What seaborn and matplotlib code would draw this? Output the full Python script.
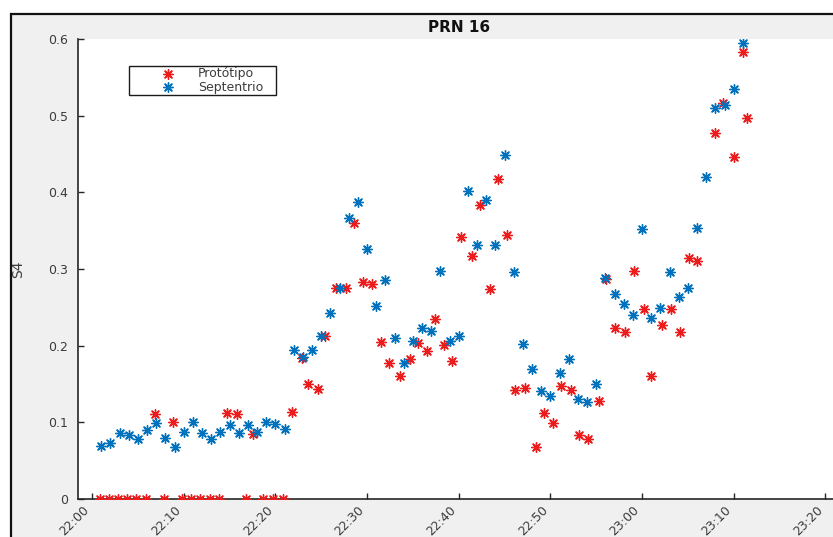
import matplotlib
matplotlib.use("Agg")
import matplotlib.pyplot as plt
import matplotlib.dates as mdates
import matplotlib.transforms as mtransforms
from matplotlib.patches import Rectangle
import pandas as pd
import seaborn as sns

# ---- data: S4 index, PRN 16, minutes after 22:00 ----
start = "2000-01-01 22:00"
series_names = ["Protótipo", "Septentrio"]

prot_min = [0.9, 1.8, 2.8, 3.8, 4.75, 5.9, 6.9, 7.85, 8.85, 9.8,
            10.8, 11.75, 12.85, 13.9, 14.75, 15.8, 16.75, 17.6, 18.65, 19.75,
            20.8, 21.8, 22.9, 23.6, 24.7, 25.4, 26.6, 27.7, 28.6, 29.6,
            30.5, 31.5, 32.4, 33.6, 34.7, 35.6, 36.5, 37.4, 38.4, 39.3,
            40.3, 41.5, 42.3, 43.4, 44.3, 45.3, 46.1, 47.2, 48.4, 49.3,
            50.3, 51.2, 52.2, 53.1, 54.1, 55.3, 56.1, 57.1, 58.1, 59.1,
            60.2, 61.0, 62.2, 63.2, 64.1, 65.1, 66.0, 68.0, 68.8, 70.0,
            71.0, 71.4]
prot_s4 = [0, 0, 0, 0, 0, 0, 0.111, 0, 0.101, 0,
           0, 0, 0, 0, 0.112, 0.1105, 0, 0.085, 0, 0,
           0, 0.1135, 0.184, 0.1495, 0.1435, 0.212, 0.275, 0.275, 0.36, 0.2835,
           0.28, 0.205, 0.177, 0.16, 0.1826, 0.203, 0.193, 0.235, 0.201, 0.18,
           0.342, 0.317, 0.3835, 0.2735, 0.417, 0.345, 0.142, 0.145, 0.068, 0.112,
           0.0996, 0.147, 0.142, 0.0835, 0.078, 0.128, 0.2865, 0.2226, 0.2174, 0.298,
           0.2474, 0.16, 0.227, 0.2474, 0.2174, 0.315, 0.311, 0.477, 0.516, 0.4457,
           0.5835, 0.4965]

sept_min = list(range(1, 72))
sept_s4 = [0.0695, 0.073, 0.0857, 0.084, 0.078, 0.09, 0.0995, 0.08, 0.068, 0.088,
           0.101, 0.0857, 0.078, 0.087, 0.0965, 0.0857, 0.0965, 0.087, 0.101, 0.098,
           0.091, 0.195, 0.185, 0.195, 0.212, 0.242, 0.275, 0.367, 0.387, 0.326,
           0.252, 0.2857, 0.2095, 0.177, 0.2065, 0.2226, 0.219, 0.297, 0.206, 0.212,
           0.4017, 0.331, 0.39, 0.331, 0.4487, 0.2957, 0.2017, 0.1696, 0.141, 0.134,
           0.165, 0.182, 0.13, 0.126, 0.15, 0.288, 0.268, 0.255, 0.24, 0.352,
           0.2365, 0.2487, 0.2957, 0.263, 0.2757, 0.354, 0.4204, 0.5096, 0.514, 0.5345,
           0.595]

x_tick_labels = ["22:00", "22:10", "22:20", "22:30", "22:40",
                 "22:50", "23:00", "23:10", "23:20"]
y_ticks = [0, 0.1, 0.2, 0.3, 0.4, 0.5, 0.6]
y_tick_labels = ["0", "0.1", "0.2", "0.3", "0.4", "0.5", "0.6"]
x_limits_min = [-1.53, 81.6]

# ---- build frames ----
t0 = pd.Timestamp(start)
day = t0.normalize()
prot = pd.DataFrame({"hora": t0 + pd.to_timedelta(prot_min, unit="min"),
                     "S4": prot_s4})
sept = pd.DataFrame({"hora": t0 + pd.to_timedelta(sept_min, unit="min"),
                     "S4": sept_s4})

RED = "#ec1c1c"
BLUE = "#0072bd"
AX_COLOR = "#262626"
TXT_COLOR = "#3c3c3c"
ASTERISK = (8, 2, 0)

plt.rcParams["font.family"] = ["DejaVu Sans"]

fig = plt.figure(figsize=(8.33, 5.37), dpi=100, facecolor="white")
# grey figure panel with dark frame
fig.add_artist(Rectangle((11 / 833, -0.1), 1.2, 1.1 - 14 / 537,
                         transform=fig.transFigure, facecolor="#f0f0f0",
                         edgecolor="#111111", linewidth=1.6, zorder=0))

ax = fig.add_axes([78 / 833, 1 - 499 / 537, (840 - 78) / 833, 460 / 537])
ax.set_facecolor("white")

sns.scatterplot(data=prot, x="hora", y="S4", color=RED, marker=ASTERISK,
                s=48, linewidth=1.0, label=series_names[0], legend=False,
                ax=ax, zorder=3)
sns.scatterplot(data=sept, x="hora", y="S4", color=BLUE, marker=ASTERISK,
                s=48, linewidth=1.0, label=series_names[1], legend=False,
                ax=ax, zorder=3)

# axes limits and ticks
ax.set_xlim(t0 + pd.Timedelta(minutes=x_limits_min[0]),
            t0 + pd.Timedelta(minutes=x_limits_min[1]))
ax.set_ylim(y_ticks[0], y_ticks[-1])
xt = [day + pd.to_timedelta(lbl + ":00") for lbl in x_tick_labels]
ax.set_xticks([mdates.date2num(t) for t in xt])
ax.set_xticklabels(x_tick_labels, rotation=45, ha="right",
                   fontsize=9, color=TXT_COLOR)
shift = mtransforms.ScaledTranslation(5 / 100, 0, fig.dpi_scale_trans)
for lbl in ax.get_xticklabels():
    lbl.set_transform(lbl.get_transform() + shift)
ax.set_yticks(y_ticks)
ax.set_yticklabels(y_tick_labels, fontsize=9, color=TXT_COLOR)
ax.tick_params(axis="both", direction="in", length=4, width=1.0,
               color=AX_COLOR)
ax.tick_params(axis="y", pad=7)
ax.tick_params(axis="x", pad=3)

for side in ("top", "right"):
    ax.spines[side].set_visible(False)
for side in ("left", "bottom"):
    ax.spines[side].set_color(AX_COLOR)
    ax.spines[side].set_linewidth(1.2)

ax.set_xlabel("")
ax.set_ylabel("S4", fontsize=10, color=TXT_COLOR)
ax.yaxis.set_label_coords((25.5 - 78) / 762, 0.5)
ax.set_title("PRN 16", fontsize=11, fontweight="bold", color="#111111", pad=5)

# legend box
leg_x0 = (129 - 78) / 762
leg_w = 147 / 762
leg_top = (499 - 66) / 460
leg_h = 31 / 460
leg = ax.legend(loc="upper left",
                bbox_to_anchor=(leg_x0, leg_top - leg_h, leg_w, leg_h),
                mode="expand", borderaxespad=0, fontsize=9,
                frameon=True, fancybox=False, framealpha=1,
                edgecolor="#1a1a1a", borderpad=0.12, labelspacing=0.0,
                handlelength=6.0, handletextpad=-0.62, scatterpoints=1)
leg.get_frame().set_linewidth(1.0)
for txt in leg.get_texts():
    txt.set_color(TXT_COLOR)

fig.savefig("out.png", dpi=100, facecolor=fig.get_facecolor())
